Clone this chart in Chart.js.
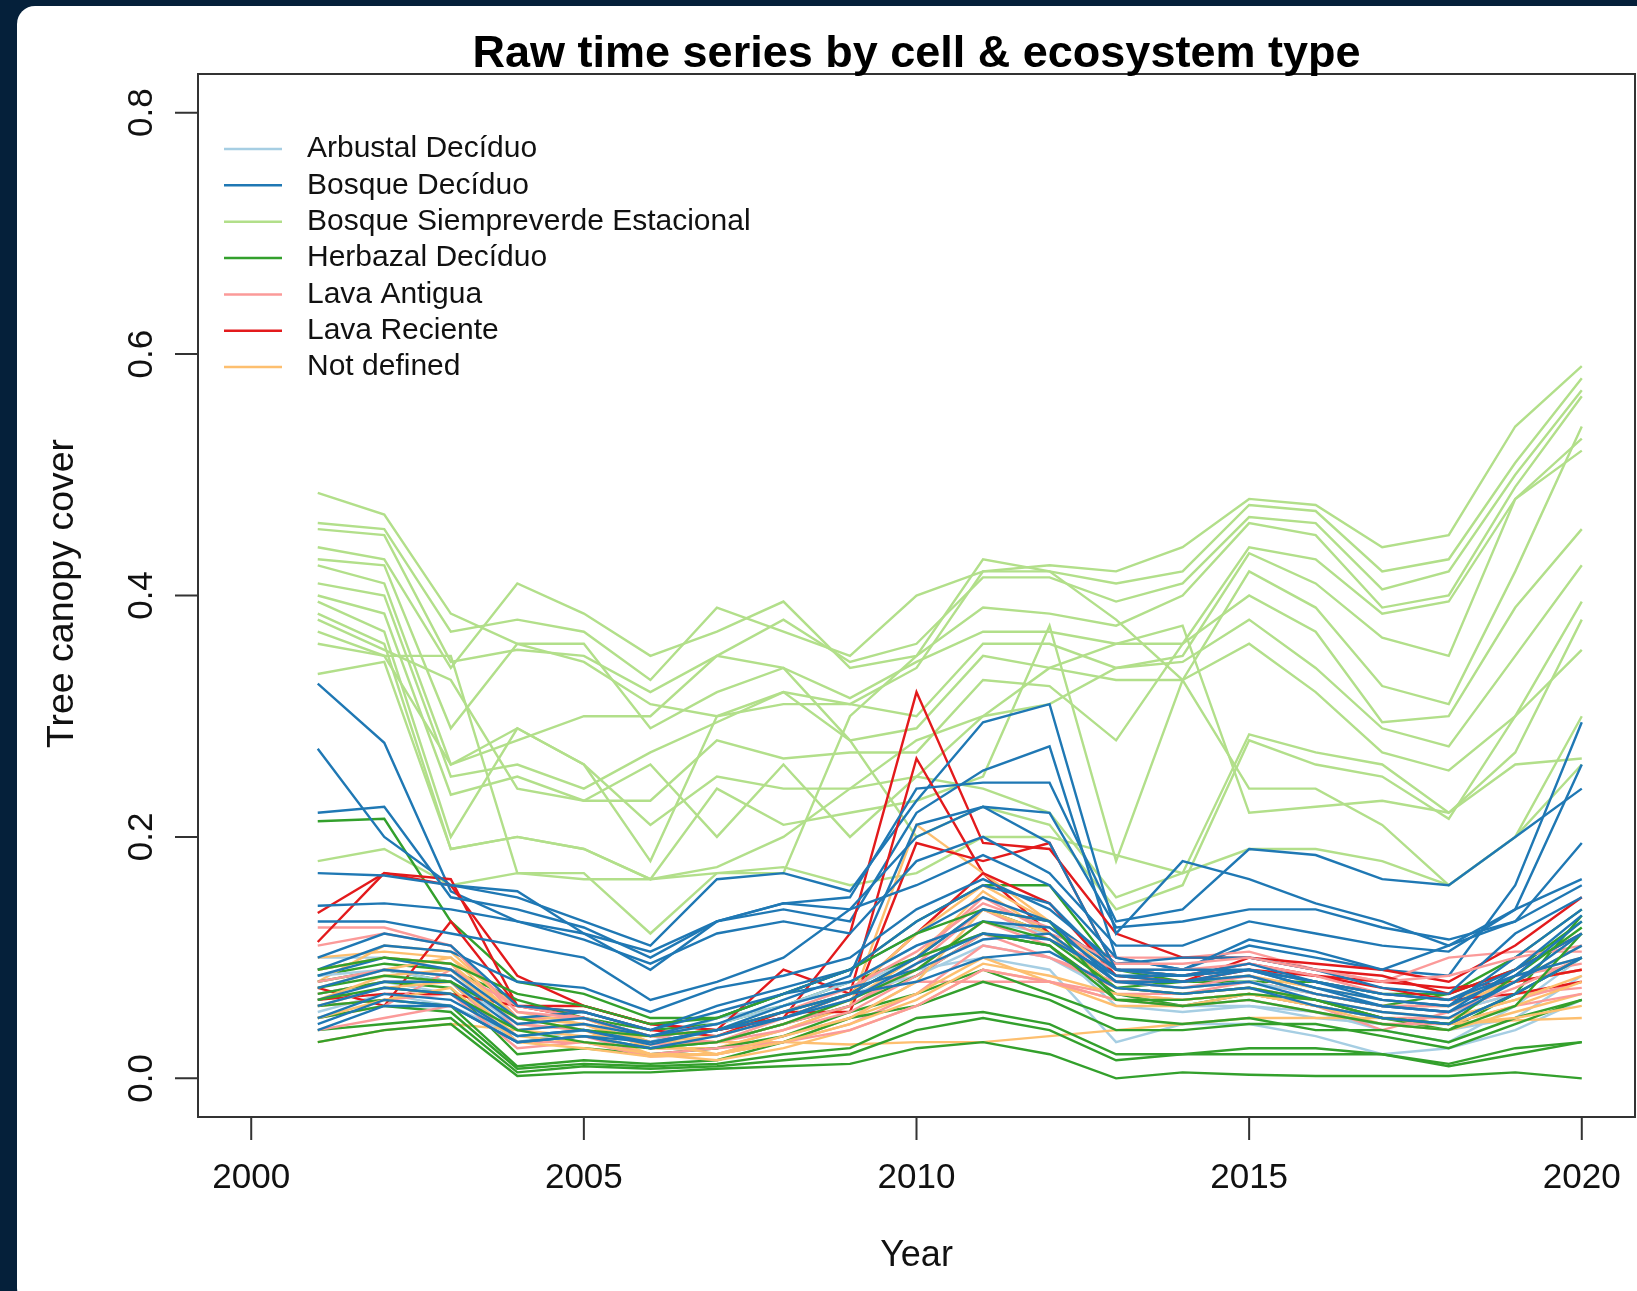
<!DOCTYPE html>
<html>
<head>
<meta charset="utf-8">
<script src="https://cdn.jsdelivr.net/npm/chart.js@4.4.1/dist/chart.umd.min.js"></script>
<style>
  html, body { margin: 0; padding: 0; background: #05203a; overflow: hidden; }
  #card { position: absolute; left: 17px; top: 6px; width: 1660px; height: 1300px; background: #fff; border-radius: 18px; }
  #chart { position: absolute; left: 0; top: 0; }
</style>
</head>
<body>
<div id="card"></div>
<canvas id="chart" width="1637" height="1291"></canvas>
<script>
// years 2001 - 2020
const years = [2001, 2002, 2003, 2004, 2005, 2006, 2007, 2008, 2009, 2010,
               2011, 2012, 2013, 2014, 2015, 2016, 2017, 2018, 2019, 2020];

const categories = ['Arbustal Decíduo', 'Bosque Decíduo', 'Bosque Siempreverde Estacional',
                    'Herbazal Decíduo', 'Lava Antigua', 'Lava Reciente', 'Not defined'];
// RColorBrewer "Paired"
const catColors = ['#A6CEE3', '#1F78B4', '#B2DF8A', '#33A02C', '#FB9A99', '#E31A1C', '#FDBF6F'];

const xTicks = [2000, 2005, 2010, 2015, 2020];
const yTicks = [0.0, 0.2, 0.4, 0.6, 0.8];

// one row per cell
const arbustal = [
    [0.10, 0.10, 0.09, 0.04, 0.045, 0.03, 0.04, 0.05, 0.065, 0.09, 0.10, 0.09, 0.03, 0.045, 0.045, 0.035, 0.02, 0.025, 0.04, 0.065],
    [0.07, 0.08, 0.07, 0.03, 0.04, 0.03, 0.05, 0.06, 0.075, 0.10, 0.12, 0.11, 0.06, 0.055, 0.06, 0.055, 0.04, 0.03, 0.06, 0.10],
    [0.055, 0.07, 0.06, 0.035, 0.04, 0.03, 0.04, 0.055, 0.07, 0.085, 0.11, 0.10, 0.07, 0.06, 0.06, 0.05, 0.045, 0.04, 0.05, 0.085],
    [0.085, 0.09, 0.08, 0.045, 0.05, 0.035, 0.045, 0.06, 0.08, 0.11, 0.13, 0.12, 0.08, 0.075, 0.08, 0.07, 0.06, 0.055, 0.07, 0.10]
];
const bosqueDeciduo = [
    [0.327, 0.278, 0.155, 0.13, 0.12, 0.105, 0.13, 0.14, 0.13, 0.22, 0.255, 0.275, 0.10, 0.09, 0.11, 0.10, 0.09, 0.085, 0.16, 0.295],
    [0.273, 0.20, 0.16, 0.15, 0.13, 0.11, 0.165, 0.17, 0.155, 0.23, 0.295, 0.31, 0.12, 0.18, 0.165, 0.145, 0.13, 0.11, 0.14, 0.26],
    [0.22, 0.225, 0.15, 0.14, 0.125, 0.10, 0.13, 0.145, 0.15, 0.24, 0.245, 0.245, 0.13, 0.14, 0.19, 0.185, 0.165, 0.16, 0.20, 0.24],
    [0.17, 0.168, 0.16, 0.155, 0.12, 0.09, 0.13, 0.145, 0.14, 0.20, 0.225, 0.22, 0.125, 0.13, 0.14, 0.14, 0.125, 0.115, 0.13, 0.195],
    [0.143, 0.145, 0.14, 0.13, 0.115, 0.095, 0.12, 0.13, 0.12, 0.18, 0.20, 0.17, 0.11, 0.11, 0.13, 0.12, 0.11, 0.105, 0.14, 0.165],
    [0.13, 0.13, 0.12, 0.11, 0.10, 0.065, 0.08, 0.10, 0.14, 0.16, 0.185, 0.16, 0.10, 0.09, 0.115, 0.105, 0.09, 0.11, 0.13, 0.16],
    [0.09, 0.11, 0.105, 0.08, 0.075, 0.055, 0.075, 0.085, 0.10, 0.14, 0.165, 0.14, 0.095, 0.10, 0.10, 0.09, 0.075, 0.07, 0.12, 0.15],
    [0.085, 0.10, 0.09, 0.05, 0.055, 0.04, 0.06, 0.075, 0.09, 0.12, 0.15, 0.13, 0.09, 0.085, 0.09, 0.08, 0.065, 0.06, 0.10, 0.14],
    [0.065, 0.08, 0.08, 0.04, 0.045, 0.035, 0.05, 0.07, 0.08, 0.11, 0.13, 0.125, 0.085, 0.08, 0.085, 0.07, 0.06, 0.055, 0.09, 0.12],
    [0.05, 0.07, 0.065, 0.035, 0.04, 0.03, 0.04, 0.06, 0.075, 0.09, 0.115, 0.12, 0.08, 0.075, 0.08, 0.065, 0.055, 0.05, 0.08, 0.11],
    [0.04, 0.06, 0.06, 0.03, 0.035, 0.025, 0.035, 0.05, 0.07, 0.08, 0.10, 0.105, 0.075, 0.07, 0.075, 0.06, 0.05, 0.045, 0.07, 0.10],
    [0.075, 0.09, 0.085, 0.045, 0.05, 0.035, 0.045, 0.065, 0.085, 0.21, 0.225, 0.195, 0.09, 0.09, 0.09, 0.075, 0.065, 0.06, 0.085, 0.13],
    [0.06, 0.075, 0.07, 0.035, 0.04, 0.028, 0.04, 0.055, 0.07, 0.10, 0.14, 0.13, 0.08, 0.08, 0.09, 0.075, 0.06, 0.055, 0.08, 0.12],
    [0.10, 0.12, 0.11, 0.06, 0.055, 0.04, 0.055, 0.07, 0.09, 0.13, 0.16, 0.145, 0.09, 0.085, 0.095, 0.08, 0.07, 0.065, 0.09, 0.135],
    [0.045, 0.065, 0.06, 0.03, 0.035, 0.03, 0.04, 0.05, 0.065, 0.095, 0.12, 0.115, 0.085, 0.085, 0.09, 0.08, 0.07, 0.065, 0.085, 0.10]
];
const bosqueSiempreverde = [
    [0.485, 0.467, 0.385, 0.36, 0.345, 0.31, 0.30, 0.32, 0.31, 0.34, 0.42, 0.425, 0.42, 0.44, 0.48, 0.475, 0.44, 0.45, 0.54, 0.59],
    [0.46, 0.455, 0.37, 0.38, 0.37, 0.33, 0.39, 0.37, 0.35, 0.40, 0.42, 0.42, 0.41, 0.42, 0.475, 0.47, 0.42, 0.43, 0.51, 0.58],
    [0.455, 0.45, 0.345, 0.355, 0.35, 0.32, 0.35, 0.38, 0.345, 0.36, 0.415, 0.415, 0.395, 0.41, 0.465, 0.46, 0.405, 0.42, 0.50, 0.57],
    [0.44, 0.43, 0.34, 0.41, 0.385, 0.35, 0.37, 0.395, 0.34, 0.35, 0.39, 0.385, 0.375, 0.40, 0.46, 0.45, 0.39, 0.40, 0.49, 0.565],
    [0.43, 0.425, 0.29, 0.36, 0.36, 0.29, 0.32, 0.34, 0.315, 0.345, 0.37, 0.37, 0.36, 0.36, 0.44, 0.43, 0.385, 0.395, 0.48, 0.53],
    [0.425, 0.41, 0.26, 0.29, 0.26, 0.18, 0.30, 0.31, 0.31, 0.30, 0.36, 0.36, 0.34, 0.35, 0.435, 0.41, 0.365, 0.35, 0.48, 0.52],
    [0.41, 0.40, 0.25, 0.26, 0.24, 0.27, 0.295, 0.32, 0.28, 0.29, 0.35, 0.34, 0.33, 0.33, 0.42, 0.39, 0.325, 0.31, 0.42, 0.54],
    [0.40, 0.385, 0.235, 0.25, 0.23, 0.23, 0.28, 0.265, 0.27, 0.27, 0.33, 0.325, 0.28, 0.36, 0.40, 0.37, 0.295, 0.30, 0.39, 0.455],
    [0.395, 0.37, 0.20, 0.29, 0.26, 0.21, 0.25, 0.24, 0.24, 0.25, 0.30, 0.31, 0.34, 0.345, 0.38, 0.34, 0.29, 0.275, 0.35, 0.425],
    [0.385, 0.36, 0.19, 0.20, 0.19, 0.165, 0.24, 0.21, 0.22, 0.23, 0.25, 0.375, 0.18, 0.33, 0.36, 0.32, 0.27, 0.255, 0.30, 0.395],
    [0.38, 0.355, 0.33, 0.24, 0.23, 0.26, 0.20, 0.26, 0.20, 0.25, 0.24, 0.22, 0.15, 0.17, 0.285, 0.27, 0.26, 0.22, 0.27, 0.38],
    [0.37, 0.35, 0.26, 0.28, 0.30, 0.30, 0.35, 0.34, 0.28, 0.20, 0.225, 0.21, 0.14, 0.16, 0.28, 0.26, 0.25, 0.215, 0.30, 0.355],
    [0.36, 0.35, 0.35, 0.17, 0.17, 0.12, 0.17, 0.17, 0.30, 0.35, 0.43, 0.42, 0.38, 0.33, 0.24, 0.24, 0.21, 0.16, 0.20, 0.30],
    [0.335, 0.345, 0.19, 0.20, 0.19, 0.165, 0.175, 0.20, 0.24, 0.28, 0.30, 0.34, 0.36, 0.375, 0.22, 0.225, 0.23, 0.22, 0.26, 0.265],
    [0.18, 0.19, 0.16, 0.17, 0.165, 0.165, 0.17, 0.175, 0.16, 0.17, 0.20, 0.20, 0.185, 0.17, 0.19, 0.19, 0.18, 0.16, 0.20, 0.26]
];
const herbazal = [
    [0.213, 0.215, 0.13, 0.08, 0.07, 0.05, 0.05, 0.07, 0.09, 0.13, 0.16, 0.16, 0.09, 0.08, 0.08, 0.08, 0.07, 0.07, 0.10, 0.14],
    [0.085, 0.095, 0.09, 0.065, 0.05, 0.04, 0.045, 0.06, 0.08, 0.10, 0.14, 0.12, 0.075, 0.08, 0.085, 0.07, 0.06, 0.07, 0.09, 0.13],
    [0.08, 0.09, 0.08, 0.03, 0.035, 0.025, 0.03, 0.045, 0.06, 0.085, 0.12, 0.11, 0.07, 0.06, 0.07, 0.06, 0.05, 0.04, 0.07, 0.135],
    [0.07, 0.08, 0.075, 0.02, 0.025, 0.02, 0.025, 0.035, 0.055, 0.07, 0.09, 0.07, 0.05, 0.045, 0.05, 0.04, 0.04, 0.03, 0.05, 0.065],
    [0.06, 0.065, 0.06, 0.01, 0.015, 0.012, 0.015, 0.03, 0.05, 0.06, 0.08, 0.065, 0.04, 0.04, 0.045, 0.045, 0.035, 0.025, 0.045, 0.065],
    [0.05, 0.06, 0.055, 0.008, 0.012, 0.01, 0.012, 0.02, 0.025, 0.05, 0.055, 0.045, 0.02, 0.02, 0.025, 0.025, 0.02, 0.012, 0.025, 0.03],
    [0.04, 0.045, 0.05, 0.005, 0.01, 0.008, 0.01, 0.015, 0.02, 0.04, 0.05, 0.04, 0.015, 0.02, 0.02, 0.02, 0.02, 0.01, 0.02, 0.03],
    [0.03, 0.04, 0.045, 0.002, 0.005, 0.005, 0.008, 0.01, 0.012, 0.025, 0.03, 0.02, 0.0, 0.005, 0.003, 0.002, 0.002, 0.002, 0.005, 0.0],
    [0.09, 0.10, 0.095, 0.07, 0.06, 0.045, 0.05, 0.07, 0.09, 0.12, 0.14, 0.13, 0.065, 0.065, 0.07, 0.065, 0.05, 0.045, 0.085, 0.125],
    [0.065, 0.075, 0.07, 0.04, 0.03, 0.025, 0.03, 0.045, 0.065, 0.09, 0.13, 0.115, 0.075, 0.07, 0.075, 0.065, 0.05, 0.045, 0.07, 0.10],
    [0.075, 0.085, 0.08, 0.05, 0.04, 0.035, 0.04, 0.055, 0.07, 0.10, 0.12, 0.11, 0.065, 0.06, 0.065, 0.055, 0.045, 0.04, 0.06, 0.12]
];
const lavaAntigua = [
    [0.125, 0.125, 0.11, 0.05, 0.05, 0.03, 0.03, 0.05, 0.07, 0.10, 0.15, 0.12, 0.10, 0.10, 0.105, 0.09, 0.08, 0.10, 0.105, 0.105],
    [0.09, 0.10, 0.095, 0.04, 0.045, 0.025, 0.025, 0.04, 0.06, 0.09, 0.13, 0.11, 0.07, 0.07, 0.08, 0.07, 0.06, 0.06, 0.08, 0.09],
    [0.07, 0.08, 0.08, 0.03, 0.035, 0.02, 0.02, 0.035, 0.05, 0.08, 0.08, 0.08, 0.07, 0.065, 0.07, 0.06, 0.04, 0.055, 0.07, 0.075],
    [0.06, 0.065, 0.07, 0.025, 0.03, 0.02, 0.025, 0.03, 0.045, 0.07, 0.11, 0.10, 0.075, 0.07, 0.075, 0.065, 0.05, 0.05, 0.065, 0.08],
    [0.05, 0.06, 0.09, 0.06, 0.05, 0.035, 0.03, 0.04, 0.055, 0.085, 0.12, 0.10, 0.08, 0.075, 0.085, 0.07, 0.06, 0.055, 0.075, 0.10],
    [0.08, 0.09, 0.085, 0.045, 0.04, 0.028, 0.03, 0.045, 0.06, 0.095, 0.14, 0.115, 0.09, 0.09, 0.095, 0.085, 0.07, 0.065, 0.085, 0.095],
    [0.04, 0.05, 0.06, 0.03, 0.03, 0.018, 0.02, 0.03, 0.04, 0.06, 0.09, 0.08, 0.065, 0.06, 0.065, 0.055, 0.045, 0.045, 0.06, 0.07],
    [0.11, 0.12, 0.11, 0.055, 0.05, 0.035, 0.04, 0.055, 0.075, 0.105, 0.145, 0.125, 0.095, 0.095, 0.10, 0.09, 0.08, 0.085, 0.10, 0.11]
];
const lavaReciente = [
    [0.137, 0.17, 0.165, 0.06, 0.06, 0.045, 0.04, 0.05, 0.12, 0.32, 0.195, 0.19, 0.12, 0.10, 0.10, 0.095, 0.09, 0.08, 0.11, 0.15],
    [0.113, 0.17, 0.16, 0.085, 0.06, 0.045, 0.04, 0.09, 0.07, 0.265, 0.17, 0.12, 0.08, 0.08, 0.10, 0.09, 0.085, 0.07, 0.09, 0.12],
    [0.075, 0.06, 0.13, 0.06, 0.055, 0.04, 0.035, 0.055, 0.055, 0.195, 0.18, 0.195, 0.09, 0.085, 0.095, 0.085, 0.08, 0.075, 0.08, 0.09],
    [0.065, 0.07, 0.07, 0.06, 0.05, 0.035, 0.04, 0.05, 0.07, 0.12, 0.17, 0.145, 0.085, 0.08, 0.09, 0.085, 0.075, 0.065, 0.07, 0.08]
];
const notDefined = [
    [0.10, 0.105, 0.10, 0.06, 0.05, 0.03, 0.03, 0.045, 0.065, 0.10, 0.155, 0.12, 0.08, 0.075, 0.08, 0.07, 0.06, 0.06, 0.085, 0.10],
    [0.08, 0.11, 0.105, 0.055, 0.045, 0.025, 0.025, 0.04, 0.06, 0.21, 0.17, 0.13, 0.085, 0.08, 0.085, 0.075, 0.065, 0.06, 0.08, 0.09],
    [0.03, 0.04, 0.045, 0.04, 0.035, 0.035, 0.03, 0.03, 0.028, 0.03, 0.03, 0.035, 0.04, 0.045, 0.05, 0.05, 0.05, 0.045, 0.048, 0.05],
    [0.075, 0.09, 0.10, 0.05, 0.04, 0.03, 0.02, 0.03, 0.05, 0.07, 0.10, 0.08, 0.06, 0.06, 0.07, 0.06, 0.045, 0.04, 0.055, 0.07],
    [0.065, 0.085, 0.09, 0.045, 0.04, 0.02, 0.015, 0.025, 0.04, 0.06, 0.09, 0.08, 0.065, 0.065, 0.07, 0.065, 0.05, 0.045, 0.05, 0.06],
    [0.09, 0.10, 0.095, 0.05, 0.045, 0.03, 0.035, 0.05, 0.07, 0.12, 0.16, 0.13, 0.09, 0.085, 0.09, 0.08, 0.07, 0.065, 0.08, 0.11],
    [0.06, 0.075, 0.08, 0.035, 0.03, 0.02, 0.02, 0.035, 0.05, 0.08, 0.14, 0.12, 0.075, 0.07, 0.075, 0.065, 0.055, 0.05, 0.065, 0.085],
    [0.05, 0.065, 0.075, 0.03, 0.025, 0.018, 0.02, 0.03, 0.045, 0.065, 0.095, 0.085, 0.07, 0.065, 0.07, 0.06, 0.05, 0.045, 0.06, 0.08]
];

const groups = [arbustal, bosqueDeciduo, bosqueSiempreverde, herbazal, lavaAntigua, lavaReciente, notDefined];

const FONT = '"Liberation Sans", Arial, Helvetica, sans-serif';

// build datasets: evergreen forest first (bottom), then the rest interleaved
const drawList = [];
bosqueSiempreverde.forEach(s => drawList.push({ cat: 2, values: s }));
const others = [0, 1, 3, 4, 5, 6];
const maxLen = Math.max(...others.map(c => groups[c].length));
for (let i = 0; i < maxLen; i++) {
    others.forEach(c => {
        if (groups[c][i]) drawList.push({ cat: c, values: groups[c][i] });
    });
}
const datasets = drawList.map((d, i) => ({
    label: categories[d.cat],
    data: d.values.map((v, j) => ({ x: years[j], y: v })),
    borderColor: catColors[d.cat],
    borderWidth: 2.4,
    pointRadius: 0,
    tension: 0,
    fill: false,
    order: -i
}));

// axes, box, titles and legend in base-R style
const rDecor = {
    id: 'rDecor',
    afterDraw(chart) {
        const ctx = chart.ctx;
        const a = chart.chartArea;
        const xs = chart.scales.x, ys = chart.scales.y;
        ctx.save();
        ctx.strokeStyle = '#333';
        ctx.lineWidth = 2;
        ctx.strokeRect(a.left, a.top, a.right - a.left, a.bottom - a.top);

        ctx.fillStyle = '#111';
        // x axis
        ctx.beginPath();
        xTicks.forEach(t => {
            const px = xs.getPixelForValue(t);
            ctx.moveTo(px, a.bottom);
            ctx.lineTo(px, a.bottom + 23);
        });
        ctx.stroke();
        ctx.font = '35px ' + FONT;
        ctx.textAlign = 'center';
        ctx.textBaseline = 'middle';
        xTicks.forEach(t => ctx.fillText(String(t), xs.getPixelForValue(t), 1178));

        // y axis
        ctx.beginPath();
        yTicks.forEach(t => {
            const py = ys.getPixelForValue(t);
            ctx.moveTo(a.left, py);
            ctx.lineTo(a.left - 23, py);
        });
        ctx.stroke();
        yTicks.forEach(t => {
            ctx.save();
            ctx.translate(142, ys.getPixelForValue(t));
            ctx.rotate(-Math.PI / 2);
            ctx.fillText(t.toFixed(1), 0, 0);
            ctx.restore();
        });

        // axis titles
        ctx.font = '36px ' + FONT;
        ctx.fillText('Year', (a.left + a.right) / 2, 1256);
        ctx.font = '37.5px ' + FONT;
        ctx.save();
        ctx.translate(63, (a.top + a.bottom) / 2 - 2);
        ctx.rotate(-Math.PI / 2);
        ctx.fillText('Tree canopy cover', 0, 0);
        ctx.restore();

        // main title
        ctx.font = 'bold 45px ' + FONT;
        ctx.fillStyle = '#000';
        ctx.fillText('Raw time series by cell & ecosystem type', (a.left + a.right) / 2, 55);

        // legend
        ctx.font = '30px ' + FONT;
        ctx.textAlign = 'left';
        ctx.fillStyle = '#111';
        categories.forEach((c, i) => {
            const y = 149 + i * 36.35;
            ctx.strokeStyle = catColors[i];
            ctx.lineWidth = 2.5;
            ctx.beginPath();
            ctx.moveTo(224, y);
            ctx.lineTo(282, y);
            ctx.stroke();
            ctx.fillText(c, 307, y);
        });
        ctx.restore();
    }
};

new Chart(document.getElementById('chart').getContext('2d'), {
    type: 'line',
    data: { datasets },
    options: {
        responsive: false,
        animation: false,
        layout: { padding: { left: 198, top: 74, right: 2, bottom: 174 } },
        scales: {
            x: { type: 'linear', min: 1999.2, max: 2020.8, display: false },
            y: { type: 'linear', min: -0.032, max: 0.832, display: false }
        },
        plugins: {
            legend: { display: false },
            tooltip: { enabled: false }
        }
    },
    plugins: [rDecor]
});
</script>
</body>
</html>
